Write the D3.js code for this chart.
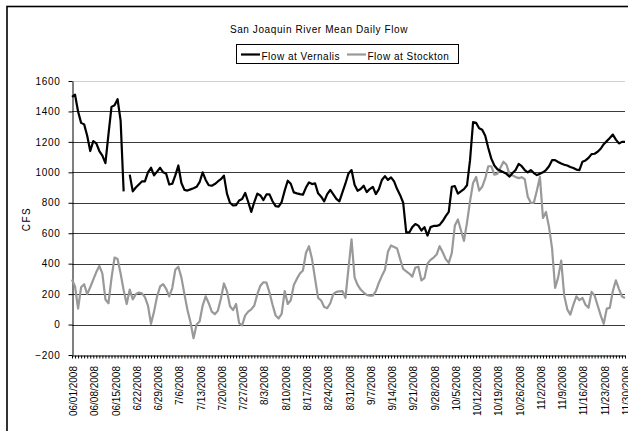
<!DOCTYPE html>
<html>
<head>
<meta charset="utf-8">
<script src="https://cdn.jsdelivr.net/npm/d3@7"></script>
<style>
  body { margin: 0; background: #fff; }
  svg { display: block; font-family: "Liberation Sans", Arial, sans-serif; }
</style>
</head>
<body>
<div id="container"></div>
<script>
let width = 628;
let height = 431;

// one value per day, 06/01/2008 .. 11/30/2008 (null = missing)
let vernalis = [
  1495, 1510, 1400, 1325, 1315, 1240, 1140, 1205, 1190, 1140, 1110, 1060, 1250, 1430, 1440, 1480, 1340, 875, null, 985,
  875, 900, 920, 940, 940, 1000, 1030, 980, 1005, 1030, 1000, 990, 920, 925, 980, 1045, 930, 885, 880, 888,
  895, 905, 935, 1000, 950, 915, 912, 923, 940, 955, 978, 860, 800, 782, 785, 815, 825, 865, 805, 740,
  805, 860, 848, 818, 855, 855, 810, 778, 775, 805, 880, 945, 925, 868, 862, 857, 853, 900, 934, 923,
  927, 862, 840, 809, 857, 884, 855, 825, 809, 868, 927, 993, 1015, 919, 879, 890, 912, 870, 890, 905,
  857, 890, 950, 975, 950, 967, 940, 890, 850, 800, 605, 605, 640, 660, 650, 618, 640, 585, 640, 648,
  648, 655, 680, 712, 740, 905, 910, 860, 875, 890, 915, 1080, 1330, 1325, 1290, 1280, 1240, 1160, 1090, 1045,
  1020, 1010, 1000, 990, 972, 995, 1015, 1055, 1040, 1015, 1000, 1015, 995, 982, 990, 1000, 1015, 1040, 1080, 1080,
  1068, 1058, 1050, 1045, 1035, 1028, 1018, 1015, 1070, 1078, 1095, 1120, 1122, 1135, 1155, 1185, 1205, 1225, 1248, 1215,
  1190, 1200, 1200
];

let stockton = [
  295, 250, 105, 245, 265, 200, 245, 295, 345, 385, 335, 165, 140, 305, 440, 430, 335, 225, 135, 230,
  165, 200, 210, 205, 180, 125, 5, 85, 185, 250, 265, 235, 185, 240, 360, 380, 310, 200, 95, 15,
  -90, 0, 20, 125, 185, 140, 85, 68, 90, 170, 270, 220, 120, 95, 135, 10, -5, 60, 85, 100,
  125, 200, 255, 278, 275, 210, 130, 60, 40, 70, 220, 135, 160, 260, 300, 335, 355, 470, 515, 430,
  300, 175, 158, 115, 108, 140, 200, 215, 218, 220, 175, 370, 560, 310, 260, 230, 210, 195, 190, 190,
  220, 275, 320, 360, 480, 520, 510, 500, 430, 365, 350, 335, 315, 375, 380, 290, 305, 400, 425, 440,
  460, 515, 475, 430, 405, 470, 650, 690, 620, 550, 670, 810, 930, 970, 880, 905, 960, 1040, 1040, 985,
  990, 1030, 1070, 1050, 985, 980, 970, 962, 968, 955, 840, 800, 800, 880, 970, 700, 740, 640, 500, 240,
  310, 420, 190, 100, 65, 130, 185, 160, 175, 130, 110, 215, 190, 125, 60, 5, 105, 110, 220, 290,
  235, 185, 175
];

// every 7th day is labelled
let tickLabels = [
  "06/01/2008", "06/08/2008", "06/15/2008", "6/22/2008", "6/29/2008", "7/6/2008", "7/13/2008",
  "7/20/2008", "7/27/2008", "8/3/2008", "8/10/2008", "8/17/2008", "8/24/2008", "8/31/2008",
  "9/7/2008", "9/14/2008", "9/21/2008", "9/28/2008", "10/5/2008", "10/12/2008", "10/19/2008",
  "10/26/2008", "11/2/2008", "11/9/2008", "11/16/2008", "11/23/2008", "11/30/2008"
];

let yTicks = [-200, 0, 200, 400, 600, 800, 1000, 1200, 1400, 1600];

let seriesNames = ["Flow at Vernalis", "Flow at Stockton"];
let seriesColors = ["#000000", "#999999"];

// days of the category axis
let days = d3.utcDay.range(new Date(Date.UTC(2008, 5, 1)), new Date(Date.UTC(2008, 11, 1)));

let plot = { left: 72, right: 625, top: 81, bottom: 355 };

let svg = d3.select("#container")
  .append("svg")
  .attr("width", width)
  .attr("height", height);

svg.append("rect")
  .attr("width", width).attr("height", height)
  .attr("fill", "#fff");

// chart frame (runs off the right and bottom)
svg.append("rect")
  .attr("x", 7).attr("y", 6.5)
  .attr("width", 700).attr("height", 500)
  .attr("fill", "none")
  .attr("stroke", "#000")
  .attr("stroke-width", 1.6);

let x = d3.scaleUtc()
  .domain([days[0], days[days.length - 1]])
  .range([plot.left, plot.right]);

let y = d3.scaleLinear()
  .domain([-200, 1600])
  .range([plot.bottom, plot.top]);

// gridlines
svg.append("g")
  .selectAll("line")
  .data(yTicks.filter(d => d > -200))
  .join("line")
  .attr("x1", plot.left)
  .attr("x2", plot.right)
  .attr("y1", d => Math.round(y(d)) + 0.5)
  .attr("y2", d => Math.round(y(d)) + 0.5)
  .attr("stroke", d => d == 1600 ? "#d0d0d0" : "#3a3a3a")
  .attr("stroke-width", 1);

// y axis
let yAxis = svg.append("g")
  .attr("transform", `translate(${plot.left + 0.5},0)`)
  .call(d3.axisLeft(y).tickValues(yTicks).tickFormat(d3.format("d"))
    .tickSize(4).tickSizeOuter(0).tickPadding(8));
yAxis.selectAll("text")
  .attr("font-size", 10)
  .attr("letter-spacing", 0.7)
  .attr("fill", "#000");
yAxis.select(".domain").attr("stroke", "#000");
yAxis.selectAll(".tick line").attr("stroke", "#000");

// x axis: a small tick for every day
let xAxis = svg.append("g")
  .attr("transform", `translate(0,${Math.round(plot.bottom) + 0.5})`)
  .call(d3.axisBottom(x).tickValues(days).tickSize(3).tickSizeOuter(0).tickFormat(""));
xAxis.select(".domain").attr("stroke", "#000");
xAxis.selectAll(".tick line").attr("stroke", "#000");

// rotated date labels
svg.append("g")
  .selectAll("text")
  .data(tickLabels)
  .join("text")
  .attr("transform", (d, i) => `translate(${x(days[i * 7]) + 1.5},366) rotate(-90)`)
  .attr("text-anchor", "end")
  .attr("dy", "0.35em")
  .attr("font-size", 10)
  .attr("fill", "#000")
  .text(d => d);

// y title
svg.append("text")
  .attr("transform", "translate(26,219) rotate(-90)")
  .attr("text-anchor", "middle")
  .attr("dy", "0.35em")
  .attr("font-size", 10)
  .attr("letter-spacing", 1.5)
  .text("CFS");

// chart title
svg.append("text")
  .attr("x", 319)
  .attr("y", 33)
  .attr("text-anchor", "middle")
  .attr("font-size", 10)
  .attr("letter-spacing", 0.6)
  .text("San Joaquin River Mean Daily Flow");

// lines
let line = d3.line()
  .defined(d => d.v != null)
  .x(d => x(d.day))
  .y(d => y(d.v));

// stockton first so vernalis sits on top
[stockton, vernalis].forEach(function (values, k) {
  let pts = values.map((v, i) => ({ day: days[i], v: v }));
  svg.append("path")
    .datum(pts)
    .attr("fill", "none")
    .attr("stroke", seriesColors[1 - k])
    .attr("stroke-width", 2.2)
    .attr("stroke-linejoin", "round")
    .attr("d", line);
});

// legend
let legend = svg.append("g");
legend.append("rect")
  .attr("x", 236.5).attr("y", 44.5)
  .attr("width", 222).attr("height", 19)
  .attr("fill", "#fff")
  .attr("stroke", "#000");

let legendX = [241, 347];
seriesNames.forEach(function (name, k) {
  legend.append("line")
    .attr("x1", legendX[k]).attr("x2", legendX[k] + 19)
    .attr("y1", 54.5).attr("y2", 54.5)
    .attr("stroke", seriesColors[k])
    .attr("stroke-width", 2.2);
  legend.append("text")
    .attr("x", legendX[k] + 20.5)
    .attr("y", 59.5)
    .attr("font-size", 10)
    .attr("letter-spacing", 0.5)
    .text(name);
});
</script>
</body>
</html>
